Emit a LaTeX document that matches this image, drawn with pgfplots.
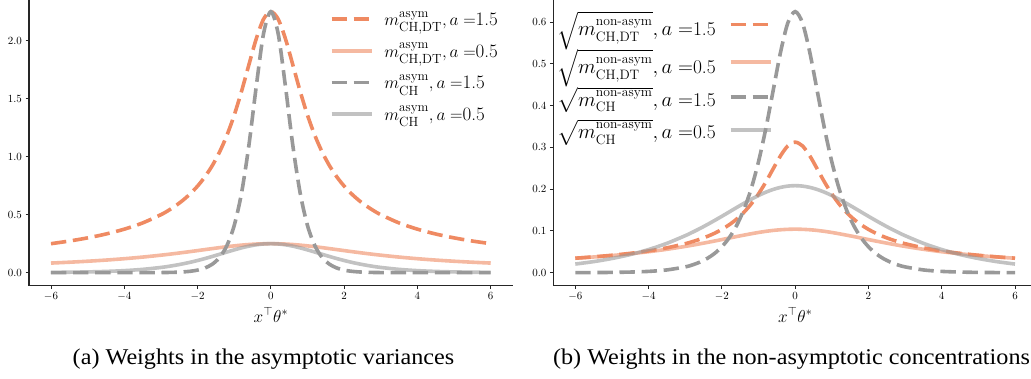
\documentclass[border=0pt]{standalone}
\usepackage{amsmath}
\usepackage{fontspec}
\usepackage{pgfplots}
\usepackage{pgfplotstable}
\pgfplotsset{compat=1.18}
\newfontfamily\capfont[FakeStretch=1.075]{Liberation Serif}
\definecolor{cOr}{HTML}{EF8A62}
\definecolor{cGr}{HTML}{999999}

\pgfplotstableread{
x L1 L2 L3 L4 R1 R2 R3 R4
-6.0 0.2500 0.0829 0.0000 0.0025 0.0347 0.0346 0.0002 0.0207
-5.5 0.2727 0.0902 0.0000 0.0041 0.0379 0.0376 0.0003 0.0265
-5.0 0.3000 0.0987 0.0000 0.0067 0.0417 0.0411 0.0007 0.0340
-4.5 0.3333 0.1087 0.0000 0.0109 0.0463 0.0453 0.0015 0.0434
-4.0 0.3750 0.1205 0.0001 0.0177 0.0521 0.0502 0.0031 0.0554
-3.5 0.4286 0.1345 0.0003 0.0285 0.0595 0.0560 0.0066 0.0703
-3.0 0.4999 0.1509 0.0011 0.0452 0.0694 0.0629 0.0139 0.0886
-2.8 0.5355 0.1581 0.0020 0.0540 0.0744 0.0659 0.0187 0.0969
-2.6 0.5765 0.1657 0.0037 0.0644 0.0801 0.0691 0.0253 0.1057
-2.4 0.6241 0.1737 0.0067 0.0763 0.0867 0.0724 0.0341 0.1151
-2.2 0.6800 0.1819 0.0122 0.0898 0.0944 0.0758 0.0460 0.1249
-2.0 0.7463 0.1904 0.0222 0.1050 0.1037 0.0793 0.0621 0.1350
-1.8 0.8258 0.1990 0.0403 0.1217 0.1147 0.0829 0.0836 0.1454
-1.6 0.9222 0.2075 0.0729 0.1398 0.1281 0.0865 0.1125 0.1558
-1.4 1.0398 0.2159 0.1310 0.1587 0.1444 0.0899 0.1508 0.1660
-1.2 1.1835 0.2238 0.2330 0.1779 0.1644 0.0932 0.2011 0.1757
-1.0 1.3577 0.2311 0.4066 0.1966 0.1886 0.0963 0.2657 0.1848
-0.8 1.5631 0.2375 0.6863 0.2139 0.2171 0.0990 0.3452 0.1927
-0.6 1.7908 0.2428 1.0956 0.2288 0.2487 0.1012 0.4361 0.1993
-0.4 2.0139 0.2467 1.6011 0.2403 0.2797 0.1028 0.5272 0.2042
-0.2 2.1848 0.2492 2.0591 0.2475 0.3035 0.1038 0.5979 0.2073
0.0 2.2500 0.2500 2.2500 0.2500 0.3125 0.1042 0.6250 0.2083
0.2 2.1848 0.2492 2.0591 0.2475 0.3035 0.1038 0.5979 0.2073
0.4 2.0139 0.2467 1.6011 0.2403 0.2797 0.1028 0.5272 0.2042
0.6 1.7908 0.2428 1.0956 0.2288 0.2487 0.1012 0.4361 0.1993
0.8 1.5631 0.2375 0.6863 0.2139 0.2171 0.0990 0.3452 0.1927
1.0 1.3577 0.2311 0.4066 0.1966 0.1886 0.0963 0.2657 0.1848
1.2 1.1835 0.2238 0.2330 0.1779 0.1644 0.0932 0.2011 0.1757
1.4 1.0398 0.2159 0.1310 0.1587 0.1444 0.0899 0.1508 0.1660
1.6 0.9222 0.2075 0.0729 0.1398 0.1281 0.0865 0.1125 0.1558
1.8 0.8258 0.1990 0.0403 0.1217 0.1147 0.0829 0.0836 0.1454
2.0 0.7463 0.1904 0.0222 0.1050 0.1037 0.0793 0.0621 0.1350
2.2 0.6800 0.1819 0.0122 0.0898 0.0944 0.0758 0.0460 0.1249
2.4 0.6241 0.1737 0.0067 0.0763 0.0867 0.0724 0.0341 0.1151
2.6 0.5765 0.1657 0.0037 0.0644 0.0801 0.0691 0.0253 0.1057
2.8 0.5355 0.1581 0.0020 0.0540 0.0744 0.0659 0.0187 0.0969
3.0 0.4999 0.1509 0.0011 0.0452 0.0694 0.0629 0.0139 0.0886
3.5 0.4286 0.1345 0.0003 0.0285 0.0595 0.0560 0.0066 0.0703
4.0 0.3750 0.1205 0.0001 0.0177 0.0521 0.0502 0.0031 0.0554
4.5 0.3333 0.1087 0.0000 0.0109 0.0463 0.0453 0.0015 0.0434
5.0 0.3000 0.0987 0.0000 0.0067 0.0417 0.0411 0.0007 0.0340
5.5 0.2727 0.0902 0.0000 0.0041 0.0379 0.0376 0.0003 0.0265
6.0 0.2500 0.0829 0.0000 0.0025 0.0347 0.0346 0.0002 0.0207
}\datatab

\pgfplotsset{
  myax/.style={
    scale only axis, width=483.7pt, height=287.2pt,
    xmin=-6.6, xmax=6.6,
    axis x line*=bottom, axis y line*=left,
    axis line style={black!85, line width=1.1pt},
    tick align=outside, major tick length=3.5pt,
    every tick/.style={black!85, line width=0.9pt},
    xtick={-6,-4,-2,0,2,4,6},
    tick label style={font=\fontsize{11}{13}\selectfont},
    yticklabel style={/pgf/number format/fixed, /pgf/number format/fixed zerofill, /pgf/number format/precision=1},
    xlabel={$x^{\top}\theta^{*}$},
    xlabel style={at={(rel axis cs:0.5,0)}, anchor=base, yshift=-36.5pt, font=\fontsize{18}{22}\selectfont},
    legend cell align=left,
    legend image code/.code={\draw[##1] (0pt,0pt) -- (40pt,0pt);},
  },
  dsh/.style={line width=3.6pt, dash pattern=on 15.4pt off 6.7pt},
  sol/.style={line width=3.6pt, opacity=0.6},
}

\begin{document}
\begin{tikzpicture}
\path[use as bounding box] (0pt,0pt) rectangle (1031pt,379pt);
\begin{axis}[myax, at={(29pt,93.25pt)}, anchor=south west,
  ymin=-0.1125, ymax=2.3625, ytick={0,0.5,1,1.5,2},
  legend style={draw=none, fill=none, inner sep=0pt, at={(rel axis cs:0.974,0.964)}, anchor=north east,
    font=\fontsize{19}{23}\selectfont, row sep=11.5pt,
    /tikz/every odd column/.append style={column sep=9pt}}]
\addplot[cOr, dsh, smooth] table[x=x,y=L1]{\datatab};
\addlegendentry{$m^{\mathrm{asym}}_{\mathrm{CH,DT}}, a =$1.5}
\addplot[cOr, sol, smooth] table[x=x,y=L2]{\datatab};
\addlegendentry{$m^{\mathrm{asym}}_{\mathrm{CH,DT}}, a =$0.5}
\addplot[cGr, dsh, smooth] table[x=x,y=L3]{\datatab};
\addlegendentry{$m^{\mathrm{asym}}_{\mathrm{CH}}, a =$1.5}
\addplot[cGr, sol, smooth] table[x=x,y=L4]{\datatab};
\addlegendentry{$m^{\mathrm{asym}}_{\mathrm{CH}}, a =$0.5}
\end{axis}
\begin{axis}[myax, at={(553.3pt,93.25pt)}, anchor=south west,
  ymin=-0.03125, ymax=0.65625, ytick={0,0.1,0.2,0.3,0.4,0.5,0.6},
  legend plot pos=right,
  legend style={draw=none, fill=none, inner sep=0pt, at={(rel axis cs:0.004,0.962)}, anchor=north west,
    font=\fontsize{19.5}{23}\selectfont, row sep=8pt,
    /tikz/every odd column/.append style={column sep=11pt}}]
\addplot[cOr, dsh, smooth] table[x=x,y=R1]{\datatab};
\addlegendentry{$\sqrt{m^{\text{non-asym}}_{\mathrm{CH,DT}}}, a =$1.5}
\addplot[cOr, sol, smooth] table[x=x,y=R2]{\datatab};
\addlegendentry{$\sqrt{m^{\text{non-asym}}_{\mathrm{CH,DT}}}, a =$0.5}
\addplot[cGr, dsh, smooth] table[x=x,y=R3]{\datatab};
\addlegendentry{$\sqrt{m^{\text{non-asym}}_{\mathrm{CH}}}, a =$1.5}
\addplot[cGr, sol, smooth] table[x=x,y=R4]{\datatab};
\addlegendentry{$\sqrt{m^{\text{non-asym}}_{\mathrm{CH}}}, a =$0.5}
\end{axis}
\node[anchor=base, font=\capfont\fontsize{22.5}{26}\selectfont] at (263.5pt,14.7pt) {(a) Weights in the asymptotic variances};
\node[anchor=base, font=\capfont\fontsize{22.5}{26}\selectfont] at (791.5pt,14.7pt) {(b) Weights in the non-asymptotic concentrations};
\end{tikzpicture}
\end{document}
